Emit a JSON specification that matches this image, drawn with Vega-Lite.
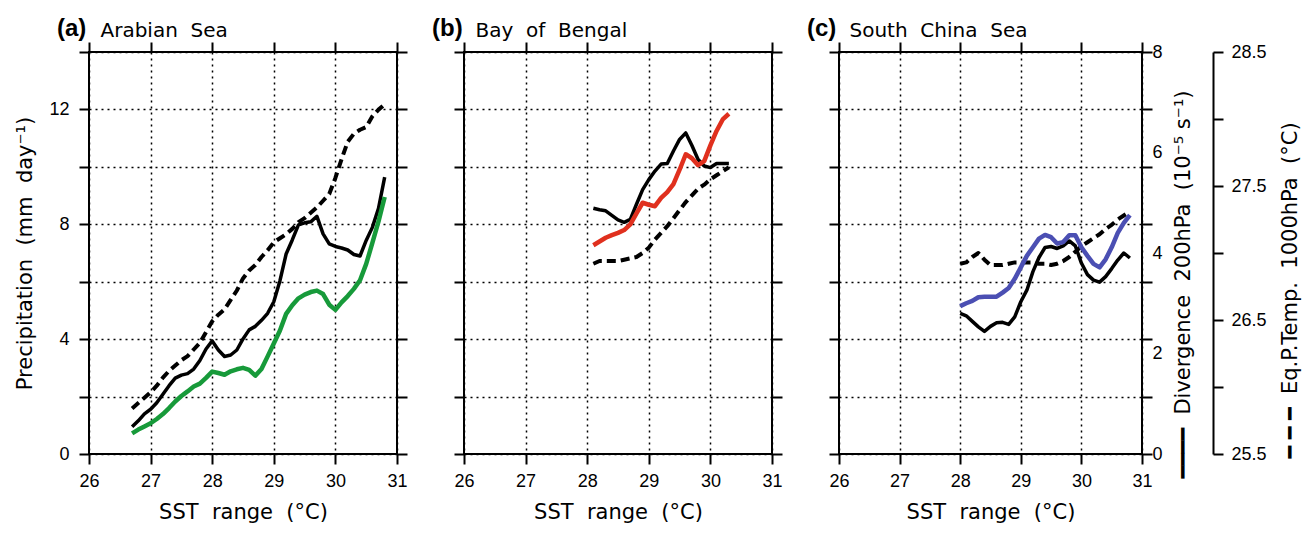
{
  "$schema": "https://vega.github.io/schema/vega-lite/v6.json",
  "background": "white",
  "padding": {"left": 13, "top": 16, "right": 5, "bottom": 5},
  "bounds": "flush",
  "spacing": 67,
  "config": {
    "view": {"stroke": "black", "strokeWidth": 2},
    "axis": {
      "domain": false, "labelFlush": false,
      "tickColor": "black", "tickWidth": 2, "tickSize": 10,
      "labelFont": "Liberation Sans", "labelFontSize": 18, "labelColor": "black",
      "titleFont": "DejaVu Sans", "titleFontSize": 21, "titleFontWeight": "normal", "titleColor": "black",
      "gridColor": "black", "gridDash": [2, 4], "gridWidth": 1.5, "gridOpacity": 1
    },
    "title": {"font": "Liberation Sans", "fontSize": 24, "fontWeight": "bold", "anchor": "start", "frame": "group", "dx": -32, "baseline": "alphabetic", "offset": -21, "color": "black"},
    "line": {"strokeJoin": "round"}
  },
  "datasets": {
    "arabian": [
      {"sst": 26.7, "p": 0.72, "d": 0.54, "t": 25.84},
      {"sst": 26.8, "p": 0.85, "d": 0.66, "t": 25.88},
      {"sst": 26.9, "p": 0.96, "d": 0.80, "t": 25.92},
      {"sst": 27.0, "p": 1.07, "d": 0.89, "t": 25.96},
      {"sst": 27.1, "p": 1.22, "d": 1.02, "t": 26.01},
      {"sst": 27.2, "p": 1.39, "d": 1.19, "t": 26.07},
      {"sst": 27.3, "p": 1.60, "d": 1.36, "t": 26.12},
      {"sst": 27.4, "p": 1.83, "d": 1.51, "t": 26.16},
      {"sst": 27.5, "p": 2.02, "d": 1.57, "t": 26.20},
      {"sst": 27.6, "p": 2.18, "d": 1.60, "t": 26.23},
      {"sst": 27.7, "p": 2.35, "d": 1.69, "t": 26.28},
      {"sst": 27.8, "p": 2.45, "d": 1.86, "t": 26.33},
      {"sst": 27.9, "p": 2.65, "d": 2.09, "t": 26.41},
      {"sst": 28.0, "p": 2.87, "d": 2.25, "t": 26.49},
      {"sst": 28.1, "p": 2.82, "d": 2.07, "t": 26.54},
      {"sst": 28.2, "p": 2.76, "d": 1.94, "t": 26.58},
      {"sst": 28.3, "p": 2.88, "d": 1.97, "t": 26.65},
      {"sst": 28.4, "p": 2.95, "d": 2.07, "t": 26.72},
      {"sst": 28.5, "p": 3.00, "d": 2.29, "t": 26.81},
      {"sst": 28.6, "p": 2.93, "d": 2.47, "t": 26.87},
      {"sst": 28.7, "p": 2.73, "d": 2.54, "t": 26.91},
      {"sst": 28.8, "p": 2.96, "d": 2.66, "t": 26.97},
      {"sst": 28.9, "p": 3.40, "d": 2.80, "t": 27.02},
      {"sst": 29.0, "p": 3.85, "d": 3.03, "t": 27.08},
      {"sst": 29.1, "p": 4.30, "d": 3.45, "t": 27.11},
      {"sst": 29.2, "p": 4.88, "d": 3.98, "t": 27.14},
      {"sst": 29.3, "p": 5.18, "d": 4.26, "t": 27.18},
      {"sst": 29.4, "p": 5.42, "d": 4.56, "t": 27.23},
      {"sst": 29.5, "p": 5.55, "d": 4.60, "t": 27.26},
      {"sst": 29.6, "p": 5.64, "d": 4.62, "t": 27.30},
      {"sst": 29.7, "p": 5.69, "d": 4.73, "t": 27.34},
      {"sst": 29.8, "p": 5.57, "d": 4.38, "t": 27.39},
      {"sst": 29.9, "p": 5.20, "d": 4.18, "t": 27.44},
      {"sst": 30.0, "p": 5.02, "d": 4.13, "t": 27.56},
      {"sst": 30.1, "p": 5.28, "d": 4.10, "t": 27.70},
      {"sst": 30.2, "p": 5.50, "d": 4.06, "t": 27.83},
      {"sst": 30.3, "p": 5.75, "d": 3.97, "t": 27.89},
      {"sst": 30.4, "p": 6.05, "d": 3.94, "t": 27.92},
      {"sst": 30.5, "p": 6.62, "d": 4.25, "t": 27.94},
      {"sst": 30.6, "p": 7.35, "d": 4.51, "t": 28.02},
      {"sst": 30.7, "p": 8.10, "d": 4.89, "t": 28.07},
      {"sst": 30.8, "p": 8.95, "d": 5.51, "t": 28.11}
    ],
    "bengal": [
      {"sst": 28.1, "p": 7.27, "d": 4.89, "t": 26.92},
      {"sst": 28.2, "p": 7.40, "d": 4.86, "t": 26.94},
      {"sst": 28.3, "p": 7.53, "d": 4.84, "t": 26.94},
      {"sst": 28.4, "p": 7.62, "d": 4.75, "t": 26.94},
      {"sst": 28.5, "p": 7.70, "d": 4.66, "t": 26.94},
      {"sst": 28.6, "p": 7.80, "d": 4.61, "t": 26.95},
      {"sst": 28.7, "p": 8.00, "d": 4.67, "t": 26.96},
      {"sst": 28.8, "p": 8.38, "d": 4.97, "t": 26.97},
      {"sst": 28.9, "p": 8.75, "d": 5.26, "t": 27.00},
      {"sst": 29.0, "p": 8.68, "d": 5.46, "t": 27.04},
      {"sst": 29.1, "p": 8.63, "d": 5.63, "t": 27.10},
      {"sst": 29.2, "p": 8.92, "d": 5.77, "t": 27.15},
      {"sst": 29.3, "p": 9.12, "d": 5.78, "t": 27.20},
      {"sst": 29.4, "p": 9.40, "d": 6.03, "t": 27.26},
      {"sst": 29.5, "p": 9.90, "d": 6.26, "t": 27.32},
      {"sst": 29.6, "p": 10.44, "d": 6.39, "t": 27.38},
      {"sst": 29.7, "p": 10.30, "d": 6.14, "t": 27.43},
      {"sst": 29.8, "p": 10.06, "d": 5.86, "t": 27.48},
      {"sst": 29.9, "p": 10.20, "d": 5.73, "t": 27.51},
      {"sst": 30.0, "p": 10.75, "d": 5.70, "t": 27.55},
      {"sst": 30.1, "p": 11.25, "d": 5.78, "t": 27.58},
      {"sst": 30.2, "p": 11.65, "d": 5.78, "t": 27.61},
      {"sst": 30.3, "p": 11.85, "d": 5.78, "t": 27.64}
    ],
    "scs": [
      {"sst": 28.0, "p": 5.15, "d": 2.80, "t": 26.92},
      {"sst": 28.1, "p": 5.25, "d": 2.75, "t": 26.93},
      {"sst": 28.2, "p": 5.33, "d": 2.64, "t": 26.97},
      {"sst": 28.3, "p": 5.46, "d": 2.53, "t": 27.00},
      {"sst": 28.4, "p": 5.48, "d": 2.44, "t": 26.95},
      {"sst": 28.5, "p": 5.48, "d": 2.54, "t": 26.91},
      {"sst": 28.6, "p": 5.48, "d": 2.61, "t": 26.91},
      {"sst": 28.7, "p": 5.62, "d": 2.62, "t": 26.91},
      {"sst": 28.8, "p": 5.78, "d": 2.58, "t": 26.92},
      {"sst": 28.9, "p": 6.10, "d": 2.73, "t": 26.93},
      {"sst": 29.0, "p": 6.50, "d": 3.03, "t": 26.93},
      {"sst": 29.1, "p": 6.90, "d": 3.26, "t": 26.93},
      {"sst": 29.2, "p": 7.20, "d": 3.63, "t": 26.93},
      {"sst": 29.3, "p": 7.50, "d": 3.91, "t": 26.92},
      {"sst": 29.4, "p": 7.63, "d": 4.11, "t": 26.92},
      {"sst": 29.5, "p": 7.55, "d": 4.13, "t": 26.91},
      {"sst": 29.6, "p": 7.33, "d": 4.09, "t": 26.92},
      {"sst": 29.7, "p": 7.38, "d": 4.14, "t": 26.94},
      {"sst": 29.8, "p": 7.62, "d": 4.24, "t": 26.97},
      {"sst": 29.9, "p": 7.62, "d": 4.14, "t": 27.01},
      {"sst": 30.0, "p": 7.20, "d": 3.80, "t": 27.05},
      {"sst": 30.1, "p": 6.90, "d": 3.57, "t": 27.08},
      {"sst": 30.2, "p": 6.62, "d": 3.46, "t": 27.11},
      {"sst": 30.3, "p": 6.50, "d": 3.42, "t": 27.14},
      {"sst": 30.4, "p": 6.78, "d": 3.53, "t": 27.18},
      {"sst": 30.5, "p": 7.20, "d": 3.69, "t": 27.21},
      {"sst": 30.6, "p": 7.70, "d": 3.86, "t": 27.25},
      {"sst": 30.7, "p": 8.05, "d": 4.00, "t": 27.28},
      {"sst": 30.8, "p": 8.32, "d": 3.90, "t": 27.31}
    ]
  },
  "hconcat": [
    {
      "width": 308, "height": 402,
      "data": {"name": "arabian"},
      "title": {"text": "(a)"},
      "resolve": {"scale": {"y": "independent"}, "axis": {"x": "independent", "y": "independent"}},
      "layer": [
        {
          "mark": {"type": "line", "strokeOpacity": 0},
          "encoding": {
            "x": {"field": "sst", "type": "quantitative", "scale": {"domain": [26, 31], "nice": false, "zero": false},
                  "axis": {"orient": "top", "values": [26, 27, 28, 29, 30, 31], "labels": false, "grid": false, "title": "Arabian\u00a0 Sea", "titleX": 11, "titleY": -16, "titleAlign": "left", "titleBaseline": "alphabetic", "titleAngle": 0, "titleFontSize": 20}},
            "y": {"field": "p", "type": "quantitative", "scale": {"domain": [0, 14], "nice": false, "zero": false},
                  "axis": {"orient": "right", "values": [0, 2, 4, 6, 8, 10, 12, 14], "labels": false, "grid": false, "title": null}}
          }
        },
        {
          "mark": {"type": "line", "strokeOpacity": 0},
          "encoding": {
            "x": {"field": "sst", "type": "quantitative", "scale": {"domain": [26, 31], "nice": false, "zero": false}, "axis": null},
            "y": {"field": "p", "type": "quantitative", "scale": {"domain": [0, 14], "nice": false, "zero": false},
                  "axis": {"orient": "left", "values": [0, 4, 8, 12], "ticks": false, "tickSize": 0, "grid": false, "labelPadding": 20, "labelAlign": "right", "title": null}}
          }
        },
        {
          "mark": {"type": "line", "color": "black", "strokeWidth": 4, "strokeDash": [9, 5]},
          "encoding": {
            "x": {"field": "sst", "type": "quantitative", "scale": {"domain": [26, 31], "nice": false, "zero": false}, "axis": null},
            "y": {"field": "t", "type": "quantitative", "scale": {"domain": [25.5, 28.5], "nice": false, "zero": false}, "axis": null}
          }
        },
        {
          "mark": {"type": "line", "color": "black", "strokeWidth": 3.5},
          "encoding": {
            "x": {"field": "sst", "type": "quantitative", "scale": {"domain": [26, 31], "nice": false, "zero": false}, "axis": null},
            "y": {"field": "d", "type": "quantitative", "scale": {"domain": [0, 8], "nice": false, "zero": false}, "axis": null}
          }
        },
        {
          "mark": {"type": "line", "color": "#179a3a", "strokeWidth": 4.5},
          "encoding": {
            "x": {"field": "sst", "type": "quantitative", "scale": {"domain": [26, 31], "nice": false, "zero": false},
                  "axis": {"orient": "bottom", "values": [26, 27, 28, 29, 30, 31], "grid": true, "labelPadding": 8, "title": "SST\u00a0 range\u00a0 (°C)", "titleY": 58, "titleBaseline": "middle"}},
            "y": {"field": "p", "type": "quantitative", "scale": {"domain": [0, 14], "nice": false, "zero": false},
                  "axis": {"orient": "left", "values": [0, 2, 4, 6, 8, 10, 12, 14], "grid": true, "labels": false,
                           "title": "Precipitation\u00a0 (mm\u00a0 day⁻¹)", "titleX": -64, "titleY": 201, "titleAngle": 270, "titleAlign": "center", "titleBaseline": "middle"}}
          }
        }
      ]
    },
    {
      "width": 308, "height": 402,
      "data": {"name": "bengal"},
      "title": {"text": "(b)"},
      "resolve": {"scale": {"y": "independent"}, "axis": {"x": "independent", "y": "independent"}},
      "layer": [
        {
          "mark": {"type": "line", "strokeOpacity": 0},
          "encoding": {
            "x": {"field": "sst", "type": "quantitative", "scale": {"domain": [26, 31], "nice": false, "zero": false},
                  "axis": {"orient": "top", "values": [26, 27, 28, 29, 30, 31], "labels": false, "grid": false, "title": "Bay\u00a0 of\u00a0 Bengal", "titleX": 11, "titleY": -16, "titleAlign": "left", "titleBaseline": "alphabetic", "titleAngle": 0, "titleFontSize": 20}},
            "y": {"field": "p", "type": "quantitative", "scale": {"domain": [0, 14], "nice": false, "zero": false},
                  "axis": {"orient": "right", "values": [0, 2, 4, 6, 8, 10, 12, 14], "labels": false, "grid": false, "title": null}}
          }
        },
        {
          "mark": {"type": "line", "color": "black", "strokeWidth": 4, "strokeDash": [9, 5]},
          "encoding": {
            "x": {"field": "sst", "type": "quantitative", "scale": {"domain": [26, 31], "nice": false, "zero": false}, "axis": null},
            "y": {"field": "t", "type": "quantitative", "scale": {"domain": [25.5, 28.5], "nice": false, "zero": false}, "axis": null}
          }
        },
        {
          "mark": {"type": "line", "color": "black", "strokeWidth": 3.5},
          "encoding": {
            "x": {"field": "sst", "type": "quantitative", "scale": {"domain": [26, 31], "nice": false, "zero": false}, "axis": null},
            "y": {"field": "d", "type": "quantitative", "scale": {"domain": [0, 8], "nice": false, "zero": false}, "axis": null}
          }
        },
        {
          "mark": {"type": "line", "color": "#e0301e", "strokeWidth": 4.5},
          "encoding": {
            "x": {"field": "sst", "type": "quantitative", "scale": {"domain": [26, 31], "nice": false, "zero": false},
                  "axis": {"orient": "bottom", "values": [26, 27, 28, 29, 30, 31], "grid": true, "labelPadding": 8, "title": "SST\u00a0 range\u00a0 (°C)", "titleY": 58, "titleBaseline": "middle"}},
            "y": {"field": "p", "type": "quantitative", "scale": {"domain": [0, 14], "nice": false, "zero": false},
                  "axis": {"orient": "left", "values": [0, 2, 4, 6, 8, 10, 12, 14], "grid": true, "labels": false, "title": null}}
          }
        }
      ]
    },
    {
      "width": 303, "height": 402,
      "data": {"name": "scs"},
      "title": {"text": "(c)"},
      "resolve": {"scale": {"y": "independent"}, "axis": {"x": "independent", "y": "independent"}},
      "layer": [
        {
          "mark": {"type": "line", "strokeOpacity": 0},
          "encoding": {
            "x": {"field": "sst", "type": "quantitative", "scale": {"domain": [26, 31], "nice": false, "zero": false},
                  "axis": {"orient": "top", "values": [26, 27, 28, 29, 30, 31], "labels": false, "grid": false, "title": "South\u00a0 China\u00a0 Sea", "titleX": 10, "titleY": -16, "titleAlign": "left", "titleBaseline": "alphabetic", "titleAngle": 0, "titleFontSize": 20}},
            "y": {"field": "p", "type": "quantitative", "scale": {"domain": [0, 14], "nice": false, "zero": false},
                  "axis": {"orient": "right", "values": [0, 2, 4, 6, 8, 10, 12, 14], "labels": false, "grid": false, "title": null}}
          }
        },
        {
          "mark": {"type": "line", "color": "black", "strokeWidth": 4, "strokeDash": [9, 5]},
          "encoding": {
            "x": {"field": "sst", "type": "quantitative", "scale": {"domain": [26, 31], "nice": false, "zero": false}, "axis": null},
            "y": {"field": "t", "type": "quantitative", "scale": {"domain": [25.5, 28.5], "nice": false, "zero": false},
                  "axis": {"orient": "right", "offset": 71, "domain": true, "domainColor": "black", "domainWidth": 2, "grid": false,
                           "values": [25.5, 26, 26.5, 27, 27.5, 28, 28.5], "format": ".1f", "labelPadding": 8,
                           "labelExpr": "(round(datum.value * 2) % 2 == 1) ? datum.label : ''",
                           "title": "━ ━ ━\u00a0 Eq.P.Temp.\u00a0 1000hPa\u00a0 (°C)", "titleX": 77, "titleY": 238, "titleAngle": 270, "titleAlign": "center", "titleBaseline": "middle"}}
          }
        },
        {
          "mark": {"type": "line", "color": "black", "strokeWidth": 3.5},
          "encoding": {
            "x": {"field": "sst", "type": "quantitative", "scale": {"domain": [26, 31], "nice": false, "zero": false}, "axis": null},
            "y": {"field": "d", "type": "quantitative", "scale": {"domain": [0, 8], "nice": false, "zero": false},
                  "axis": {"orient": "right", "ticks": false, "tickSize": 0, "domain": false, "grid": false, "values": [0, 2, 4, 6, 8], "labelPadding": 10,
                           "title": "━━━━\u00a0 Divergence\u00a0 200hPa\u00a0 (10⁻⁵ s⁻¹)", "titleX": 41, "titleY": 232, "titleAngle": 270, "titleAlign": "center", "titleBaseline": "middle"}}
          }
        },
        {
          "mark": {"type": "line", "color": "#4b4fb3", "strokeWidth": 4.5},
          "encoding": {
            "x": {"field": "sst", "type": "quantitative", "scale": {"domain": [26, 31], "nice": false, "zero": false},
                  "axis": {"orient": "bottom", "values": [26, 27, 28, 29, 30, 31], "grid": true, "labelPadding": 8, "title": "SST\u00a0 range\u00a0 (°C)", "titleY": 58, "titleBaseline": "middle"}},
            "y": {"field": "p", "type": "quantitative", "scale": {"domain": [0, 14], "nice": false, "zero": false},
                  "axis": {"orient": "left", "values": [0, 2, 4, 6, 8, 10, 12, 14], "grid": true, "labels": false, "title": null}}
          }
        }
      ]
    }
  ]
}
